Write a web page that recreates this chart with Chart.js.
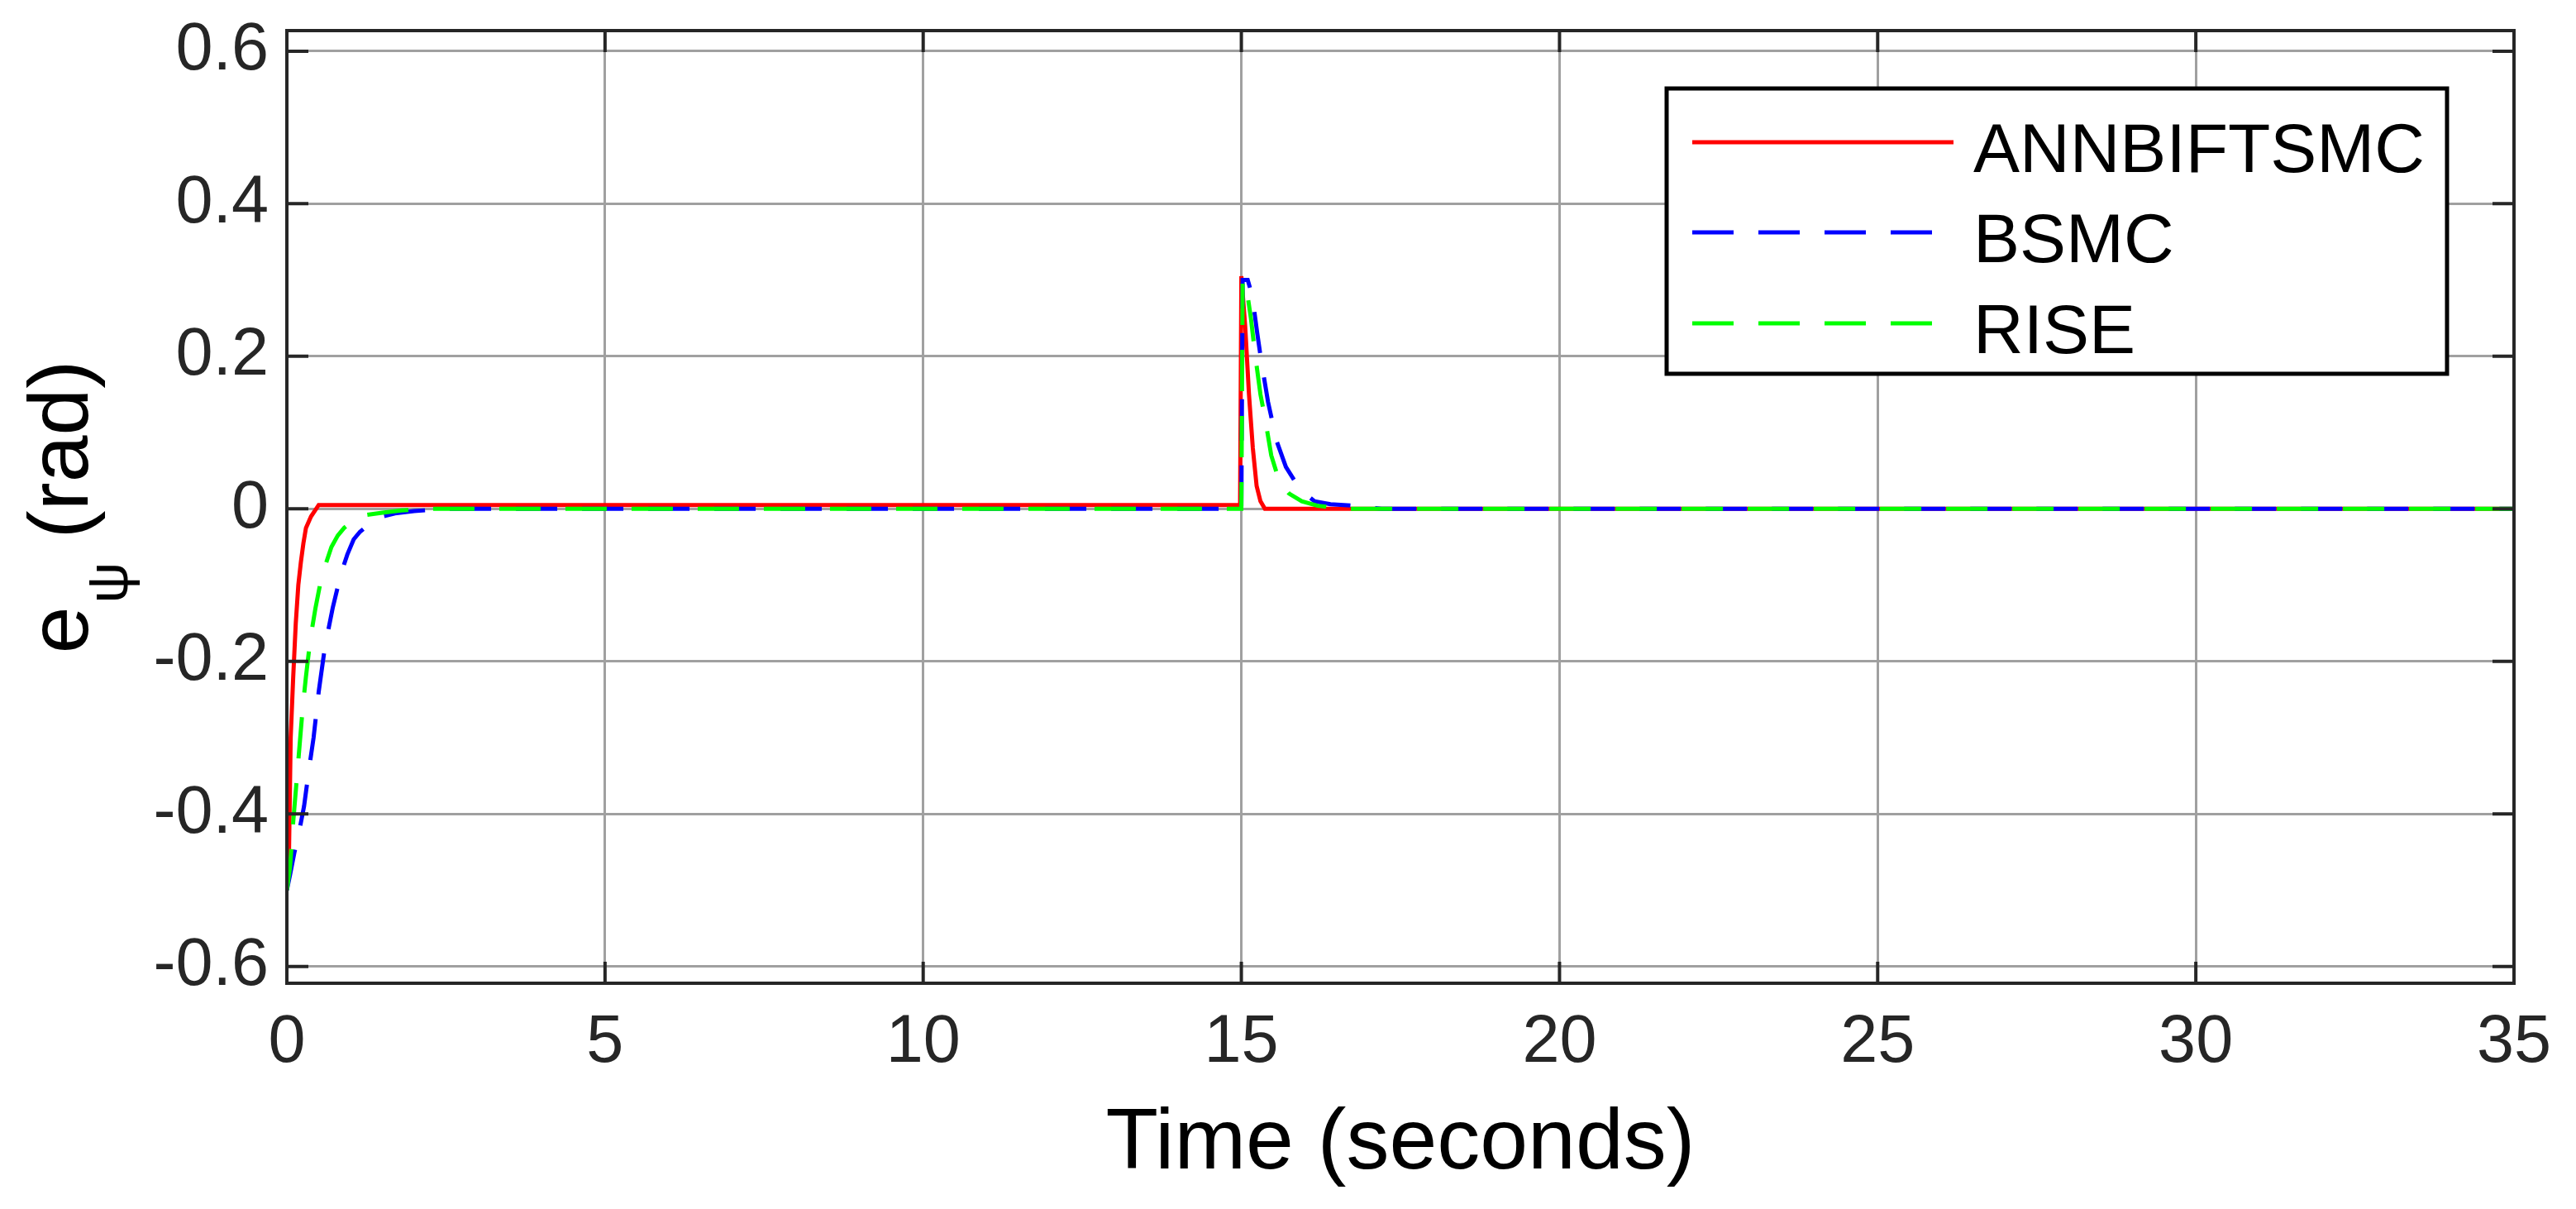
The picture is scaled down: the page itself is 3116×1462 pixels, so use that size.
<!DOCTYPE html>
<html>
<head>
<meta charset="utf-8">
<script src="https://cdn.jsdelivr.net/npm/chart.js@4.4.0/dist/chart.umd.min.js"></script>
<style>
  html, body { margin: 0; padding: 0; background: #fff; }
  #wrap { width: 3116px; height: 1462px; }
</style>
</head>
<body>
<div id="wrap"><canvas id="chart" width="3116" height="1462"></canvas></div>
<script>
// series (time in s, error in rad)
const annTime = [0, 0.03, 0.06, 0.1, 0.14, 0.18, 0.22, 0.26, 0.3, 0.38, 0.46, 0.5, 14.98, 15.0, 15.06, 15.12, 15.18, 15.24, 15.3, 15.37, 35];
const annErr  = [-0.5, -0.47, -0.3, -0.22, -0.15, -0.1, -0.07, -0.045, -0.025, -0.01, 0, 0.005, 0.005, 0.305, 0.24, 0.15, 0.08, 0.03, 0.01, 0, 0];

const bsmcTime = [0, 0.05, 0.12, 0.2, 0.27, 0.35, 0.42, 0.5, 0.6, 0.72, 0.85, 0.95, 1.05, 1.15, 1.3, 1.5, 1.7, 2.0, 2.5, 15.0, 15.02, 15.1, 15.17, 15.25, 15.32, 15.42, 15.55, 15.7, 15.85, 16.0, 16.15, 16.4, 16.8, 17.2, 35];
const bsmcErr  = [-0.5, -0.48, -0.45, -0.42, -0.39, -0.34, -0.3, -0.24, -0.18, -0.13, -0.085, -0.06, -0.04, -0.03, -0.02, -0.01, -0.006, -0.003, 0, 0, 0.3, 0.3, 0.28, 0.23, 0.19, 0.14, 0.09, 0.055, 0.035, 0.02, 0.01, 0.006, 0.004, 0, 0];

const riseTime = [0, 0.05, 0.1, 0.15, 0.2, 0.25, 0.3, 0.37, 0.45, 0.52, 0.6, 0.7, 0.8, 0.9, 1.05, 1.25, 1.5, 1.8, 2.2, 15.0, 15.02, 15.08, 15.15, 15.22, 15.3, 15.37, 15.47, 15.6, 15.75, 15.95, 16.2, 16.6, 35];
const riseErr  = [-0.5, -0.47, -0.41, -0.36, -0.31, -0.26, -0.22, -0.17, -0.13, -0.1, -0.075, -0.05, -0.035, -0.025, -0.015, -0.008, -0.005, -0.002, 0, 0, 0.3, 0.29, 0.25, 0.2, 0.15, 0.12, 0.07, 0.035, 0.02, 0.01, 0.004, 0, 0];

const xTicks = [0, 5, 10, 15, 20, 25, 30, 35];
const yTicks = [-0.6, -0.4, -0.2, 0, 0.2, 0.4, 0.6];
const yTickLabels = ['-0.6', '-0.4', '-0.2', '0', '0.2', '0.4', '0.6'];

const FONT = '"Liberation Sans", Arial, Helvetica, sans-serif';
const INK = '#262626';

function pts(t, v) {
    return t.map((x, i) => ({ x: x, y: v[i] }));
}

// box + inward ticks on all four sides
const framePlugin = {
    id: 'frame',
    afterDatasetsDraw(chart) {
        const { ctx, chartArea: a, scales } = chart;
        ctx.save();
        ctx.strokeStyle = INK;
        ctx.lineWidth = 4;
        ctx.beginPath();
        scales.x.ticks.forEach(t => {
            const px = scales.x.getPixelForValue(t.value);
            ctx.moveTo(px, a.bottom); ctx.lineTo(px, a.bottom - 26);
            ctx.moveTo(px, a.top); ctx.lineTo(px, a.top + 26);
        });
        scales.y.ticks.forEach(t => {
            const py = scales.y.getPixelForValue(t.value);
            ctx.moveTo(a.left, py); ctx.lineTo(a.left + 26, py);
            ctx.moveTo(a.right, py); ctx.lineTo(a.right - 26, py);
        });
        ctx.stroke();
        ctx.strokeRect(a.left, a.top, a.right - a.left, a.bottom - a.top);
        ctx.restore();
    }
};

// legend box inside the plot, top right
const legendPlugin = {
    id: 'boxLegend',
    afterDraw(chart) {
        const { ctx, chartArea: a } = chart;
        const bx = a.right - 1025, by = a.top + 70, bw = 944, bh = 345;
        const rows = [65, 174, 284];
        ctx.save();
        ctx.fillStyle = '#fff';
        ctx.fillRect(bx, by, bw, bh);
        ctx.strokeStyle = '#000';
        ctx.lineWidth = 5;
        ctx.strokeRect(bx, by, bw, bh);
        chart.data.datasets.forEach((ds, i) => {
            const y = by + rows[i];
            ctx.strokeStyle = ds.borderColor;
            ctx.lineWidth = 5;
            ctx.setLineDash(ds.borderDash || []);
            ctx.beginPath();
            ctx.moveTo(bx + 31, y);
            ctx.lineTo(bx + 347, y);
            ctx.stroke();
            ctx.setLineDash([]);
            ctx.fillStyle = '#000';
            ctx.font = '84px ' + FONT;
            ctx.textBaseline = 'alphabetic';
            ctx.textAlign = 'left';
            ctx.fillText(ds.label, bx + 371, y + 36);
        });
        ctx.restore();
    }
};

// y title with subscript psi
const yTitlePlugin = {
    id: 'yTitle',
    afterDraw(chart) {
        const { ctx, chartArea: a } = chart;
        const big = '102px ' + FONT, small = '70px ' + FONT;
        ctx.save();
        ctx.font = big;
        const wE = ctx.measureText('e').width;
        const wR = ctx.measureText(' (rad)').width;
        ctx.font = small;
        const wP = ctx.measureText('\u03C8').width + 4;
        const total = wE + wP + wR;
        const cy = (a.top + a.bottom) / 2;
        ctx.translate(106, cy + total / 2);
        ctx.rotate(-Math.PI / 2);
        ctx.fillStyle = '#000';
        ctx.textBaseline = 'alphabetic';
        ctx.textAlign = 'left';
        ctx.font = big;
        ctx.fillText('e', 0, 0);
        ctx.font = small;
        ctx.fillText('\u03C8', wE + 4, 48);
        ctx.font = big;
        ctx.fillText(' (rad)', wE + wP, 0);
        ctx.restore();
    }
};

const chart = new Chart(document.getElementById('chart'), {
    type: 'line',
    data: {
        datasets: [
            { label: 'ANNBIFTSMC', data: pts(annTime, annErr), borderColor: '#ff0000', borderWidth: 5, order: 3 },
            { label: 'BSMC', data: pts(bsmcTime, bsmcErr), borderColor: '#0000ff', borderWidth: 5, borderDash: [50, 30], order: 2 },
            { label: 'RISE', data: pts(riseTime, riseErr), borderColor: '#00ff00', borderWidth: 5, borderDash: [50, 30], order: 1 }
        ]
    },
    options: {
        responsive: false,
        devicePixelRatio: 1,
        animation: false,
        layout: { padding: { top: 37, right: 75, left: 0, bottom: 0 } },
        elements: { point: { radius: 0 }, line: { tension: 0, borderCapStyle: 'butt' } },
        plugins: { legend: { display: false }, tooltip: { enabled: false } },
        scales: {
            x: {
                type: 'linear',
                min: 0,
                max: 35,
                afterBuildTicks: s => { s.ticks = xTicks.map(v => ({ value: v })); },
                afterFit: s => { s.height = 273; s.paddingLeft = 0; s.paddingRight = 0; },
                grid: { color: '#a0a0a0', lineWidth: 3, drawTicks: false },
                border: { display: false },
                ticks: { color: INK, font: { family: FONT, size: 81 }, padding: 24, maxRotation: 0 },
                title: { display: true, text: 'Time (seconds)', color: '#000', font: { family: FONT, size: 104 }, padding: { top: 0, bottom: 15 } }
            },
            y: {
                type: 'linear',
                min: -0.622,
                max: 0.627,
                afterBuildTicks: s => { s.ticks = yTicks.map(v => ({ value: v })); },
                afterFit: s => { s.width = 347; s.paddingTop = 0; s.paddingBottom = 0; },
                grid: { color: '#a0a0a0', lineWidth: 3, drawTicks: false },
                border: { display: false },
                ticks: {
                    color: INK,
                    font: { family: FONT, size: 81 },
                    padding: 22,
                    callback: (value, index) => yTickLabels[index]
                }
            }
        }
    },
    plugins: [framePlugin, legendPlugin, yTitlePlugin]
});
</script>
</body>
</html>
